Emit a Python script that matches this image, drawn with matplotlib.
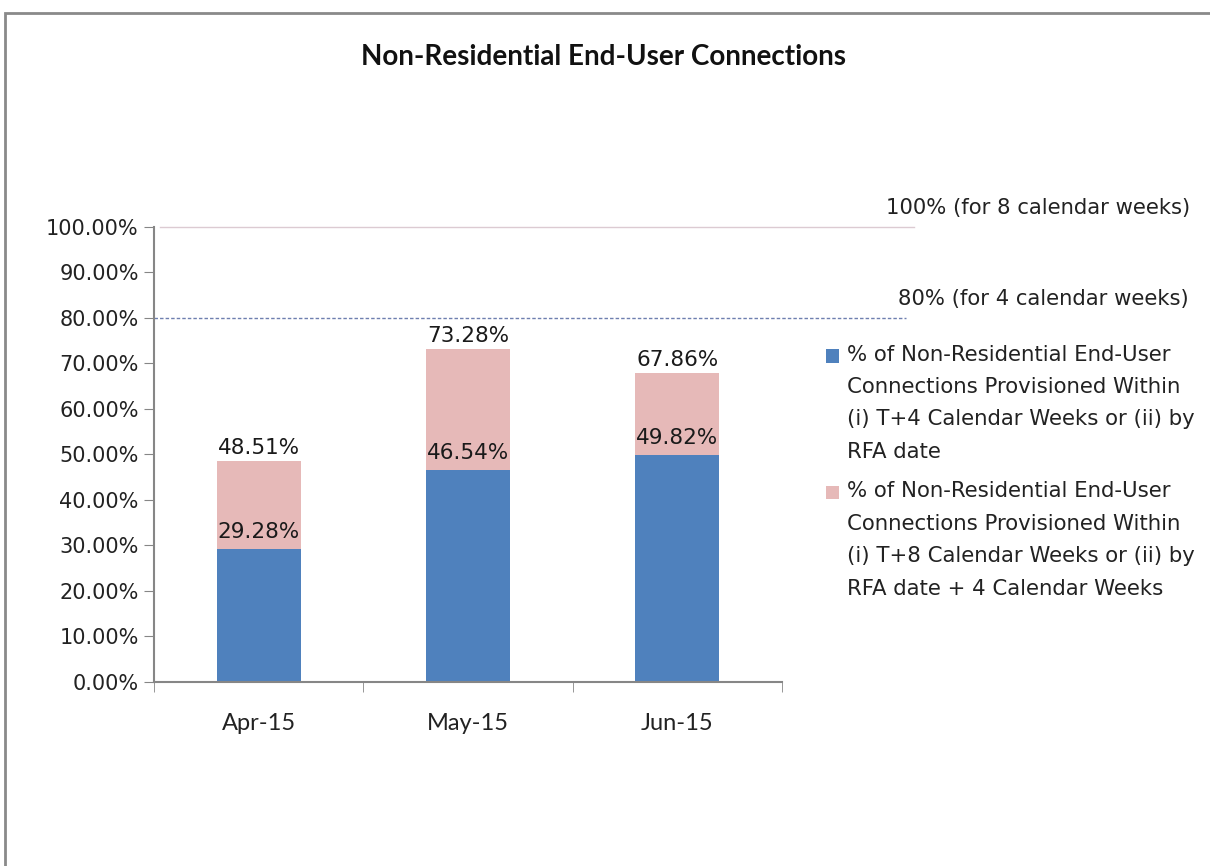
import numpy as np
import matplotlib
matplotlib.use("Agg")
import matplotlib.pyplot as plt
from matplotlib.patches import Patch, Rectangle
from matplotlib.legend_handler import HandlerPatch

# Data
months = ["Apr-15", "May-15", "Jun-15"]
within_4_weeks = [29.28, 46.54, 49.82]   # % provisioned within T+4 weeks
within_8_weeks = [48.51, 73.28, 67.86]   # % provisioned within T+8 weeks (cumulative)
target_8_weeks = 100
target_4_weeks = 80
y_ticks = [0, 10, 20, 30, 40, 50, 60, 70, 80, 90, 100]

legend_labels = [
    "% of Non-Residential End-User\nConnections Provisioned Within\n(i) T+4 Calendar Weeks or (ii) by\nRFA date",
    "% of Non-Residential End-User\nConnections Provisioned Within\n(i) T+8 Calendar Weeks or (ii) by\nRFA date + 4 Calendar Weeks",
]

BLUE = "#4F81BD"
PINK = "#E6B9B8"
AXIS_GREY = "#868686"
LEGEND_LINE_PT = 23.0  # one text line in the legend, in points


def top_square(legend, orig_handle, xdescent, ydescent, width, height, fontsize):
    # put the legend square next to the first line of a 4-line label
    return Rectangle((-xdescent, -ydescent + 1.5 * LEGEND_LINE_PT), width, height)


fig = plt.figure(figsize=(12.1, 8.66), dpi=100)
ax = fig.add_axes([0.1273, 0.2125, 0.519, 0.5254])

x = np.arange(len(months))
extra = np.array(within_8_weeks) - np.array(within_4_weeks)
ax.bar(x, within_4_weeks, width=0.4, color=BLUE, zorder=2)
ax.bar(x, extra, width=0.4, bottom=within_4_weeks, color=PINK, zorder=2)

# value labels
for xi, lo, hi in zip(x, within_4_weeks, within_8_weeks):
    ax.annotate(f"{lo:.2f}%", (xi, lo), xytext=(0, 5), textcoords="offset points",
                ha="center", va="bottom", fontsize=15.5, color="#1a1a1a", family="DejaVu Sans")
    ax.annotate(f"{hi:.2f}%", (xi, hi), xytext=(0, 2), textcoords="offset points",
                ha="center", va="bottom", fontsize=15.5, color="#1a1a1a", family="DejaVu Sans")

ax.set_xlim(-0.5, 2.5)
ax.set_ylim(0, 100)

# target lines reaching past the plot area
trans = ax.get_yaxis_transform()
ax.plot([0.01, 1.21], [target_8_weeks, target_8_weeks], transform=trans, color="#DCCBD2",
        lw=1.0, clip_on=False, zorder=1)
ax.plot([0.0, 1.197], [target_4_weeks, target_4_weeks], transform=trans, color="#6E7FAF",
        lw=1.0, ls=(0, (2.5, 1.5)), clip_on=False, zorder=1)
ax.text(1.65, target_8_weeks + 2, "100% (for 8 calendar weeks)", transform=trans,
        ha="right", va="bottom", fontsize=15.2, color="#222222", family="DejaVu Sans")
ax.text(1.648, target_4_weeks + 2, "80% (for 4 calendar weeks)", transform=trans,
        ha="right", va="bottom", fontsize=15.2, color="#222222", family="DejaVu Sans")

ax.set_yticks(y_ticks)
ax.set_yticklabels([f"{v:.2f}%" for v in y_ticks], fontsize=15, family="DejaVu Sans", color="#222222")
ax.set_xticks(x)
ax.set_xticklabels(months, fontsize=17, family="Lato", color="#222222")
ax.set_xticks([-0.5, 0.5, 1.5, 2.5], minor=True)
ax.tick_params(axis="x", which="major", length=0, pad=22)
ax.tick_params(axis="x", which="minor", length=7, color=AXIS_GREY, direction="out")
ax.tick_params(axis="y", length=7, color=AXIS_GREY, direction="out", pad=4)

for side in ["top", "right"]:
    ax.spines[side].set_visible(False)
for side in ["left", "bottom"]:
    ax.spines[side].set_color(AXIS_GREY)
    ax.spines[side].set_linewidth(1.5)

handles = [Patch(facecolor=BLUE), Patch(facecolor=PINK)]
leg = fig.legend(handles, legend_labels, loc="upper left", bbox_to_anchor=(0.676, 0.612),
                 frameon=False, prop={"family": "DejaVu Sans", "size": 15.3},
                 handlelength=0.6, handleheight=0.6, handletextpad=0.35,
                 labelspacing=0.9, borderaxespad=0,
                 handler_map={Patch: HandlerPatch(patch_func=top_square)})
for t in leg.get_texts():
    t.set_linespacing(1.78)
    t.set_color("#222222")

fig.text(0.4985, 0.934, "Non-Residential End-User Connections", ha="center", va="center",
         fontsize=20, fontweight="bold", family="Lato", color="#111111")

# chart frame (cut off at right and bottom in the original)
fig.patches.append(Rectangle((0.004, -0.1), 1.2, 1.085, transform=fig.transFigure,
                             fill=False, edgecolor="#8a8a8a", lw=2, clip_on=False))

fig.savefig("out.png", dpi=100)
